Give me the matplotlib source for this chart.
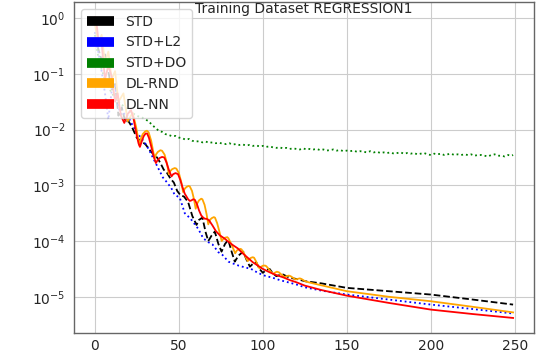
import numpy as np
import matplotlib
matplotlib.use("Agg")
import matplotlib.pyplot as plt
from matplotlib.lines import Line2D

title = "Training Dataset REGRESSION1"
labels = ["STD", "STD+L2", "STD+DO", "DL-RND", "DL-NN"]
colors = ["black", "blue", "green", "orange", "red"]
styles = ["--", ":", ":", "-", "-"]
ytick_vals = [1e0, 1e-1, 1e-2, 1e-3, 1e-4, 1e-5]

# --- data (log10 of the loss) ---
std_epoch = [0, 2, 4, 6, 8, 10, 12, 14, 16, 18, 20, 22, 25, 28, 30, 33, 35, 37, 39, 41, 43, 45, 47, 49,
             51, 53, 55.5, 58, 60.5, 62, 64, 66, 67.5, 69.5, 71.4, 73.5, 75.4, 77.5, 79.4, 81.5, 83.3,
             85.5, 88.3, 90.5, 92.3, 94, 96, 98, 100, 102, 104, 106, 108, 110, 112, 116, 120, 125, 135,
             150, 175, 200, 225, 249]
std_log = [-0.35, -0.55, -0.75, -0.65, -0.95, -1.3, -1.15, -1.75, -1.6, -1.85, -1.85, -1.95, -2.15, -2.22,
           -2.26, -2.38, -2.45, -2.5, -2.6, -2.72, -2.78, -2.88, -2.95, -3.1, -3.18, -3.2, -3.3, -3.55,
           -3.71, -3.62, -3.58, -3.85, -4.0, -3.9, -3.83, -4.05, -4.19, -4.05, -3.98, -4.2, -4.37,
           -4.26, -4.19, -4.35, -4.46, -4.41, -4.38, -4.5, -4.57, -4.52, -4.5, -4.58, -4.63, -4.61, -4.6,
           -4.66, -4.68, -4.72, -4.76, -4.84, -4.9, -4.96, -5.05, -5.14]

l2_epoch = [0, 2, 4, 6, 8, 10, 12, 14, 16, 18, 20, 22, 25, 28, 30, 32, 34.5, 37.5, 40.5, 43, 45.5, 47.5,
            50.5, 53.5, 57, 61.5, 64.5, 67.5, 70, 73.5, 76, 79.5, 82, 85.5, 89, 93, 97, 101, 106, 110,
            115, 120, 125, 135, 150, 175, 200, 225, 249]
l2_log = [-0.25, -0.6, -0.95, -1.35, -1.82, -1.3, -1.2, -1.6, -1.75, -1.7, -1.78, -1.9, -2.05, -2.17,
          -2.25, -2.35, -2.5, -2.68, -2.86, -2.95, -3.05, -3.17, -3.22, -3.5, -3.6, -3.78, -3.95, -4.02,
          -4.06, -4.2, -4.25, -4.37, -4.4, -4.44, -4.47, -4.5, -4.57, -4.62, -4.66, -4.7, -4.74, -4.78,
          -4.83, -4.89, -4.96, -5.05, -5.14, -5.22, -5.30]

do_epoch = list(range(0, 250, 2)) + [249]
do_val_1e3 = [500, 200, 120, 80, 60, 45, 38, 32, 28, 25, 22, 20, 18.5, 17.2, 16.5, 15.2, 14.2, 12.1, 10.8,
              9.5, 9.1, 8.3, 8.0, 7.6, 7.7, 7.2, 7.0, 6.6, 6.8, 6.3, 6.1, 6.2, 5.9, 6.1, 5.8, 5.9, 5.7,
              5.8, 5.6, 5.5, 5.7, 5.4, 5.5, 5.3, 5.4, 5.2, 5.3, 5.1, 5.2, 5.0, 5.1, 4.9, 5.0, 4.8, 4.7,
              4.8, 4.6, 4.7, 4.5, 4.6, 4.5, 4.4, 4.6, 4.4, 4.5, 4.4, 4.5, 4.3, 4.4, 4.2, 4.3, 4.4, 4.2,
              4.3, 4.1, 4.2, 4.1, 4.2, 4.0, 4.1, 4.0, 3.9, 4.1, 3.9, 4.0, 3.8, 3.9, 3.8, 3.9, 3.7, 3.8,
              3.9, 3.7, 3.8, 3.7, 3.8, 3.6, 3.7, 3.8, 3.6, 3.5, 3.7, 3.6, 3.7, 3.5, 3.6, 3.7, 3.5, 3.6,
              3.5, 3.6, 3.5, 3.6, 3.4, 3.5, 3.5, 3.4, 3.3, 3.5, 3.6, 3.4, 3.4, 3.3, 3.5, 3.4, 3.5]

rnd_epoch = [0, 2, 4, 6, 8, 10, 12, 14, 17, 19.5, 22.5, 24.5, 26.5, 27.5, 28.5, 30, 31, 32, 33.5, 35.5,
             36.5, 37.5, 39, 40, 41.5, 43, 44, 45, 46, 47.5, 48.5, 50, 51.5, 52.5, 53.5, 54.5, 55.8,
             56.5, 57.8, 59, 60, 61, 62, 63.3, 64, 65.3, 66.5, 67.5, 68.5, 69.5, 70.8, 71.5, 72.8, 74.3,
             75.5, 76.5, 77.5, 78.8, 79.5, 80.8, 82.3, 83.5, 84.5, 85.5, 86.7, 87.3, 88.6, 90, 91, 92,
             93, 94, 94.8, 96.2, 97.2, 98, 99, 100.2, 101.3, 102, 103.5, 105, 106, 107, 108.3, 109.5,
             111, 112.2, 113, 114, 115.5, 116.5, 118, 119.5, 120.5, 122, 123, 124.5, 126, 130, 140, 150,
             175, 200, 225, 249]
rnd_log = [-0.1, -0.45, -0.3, -0.8, -0.6, -1.1, -0.95, -1.5, -1.35, -1.85, -1.7, -1.95, -2.28, -2.15,
           -2.08, -2.03, -2.02, -2.05, -2.2, -2.52, -2.44, -2.4, -2.37, -2.38, -2.45, -2.62, -2.8, -2.74,
           -2.71, -2.69, -2.7, -2.78, -2.95, -3.12, -3.06, -3.03, -3.01, -3.02, -3.1, -3.25, -3.42,
           -3.32, -3.27, -3.24, -3.25, -3.35, -3.52, -3.7, -3.62, -3.59, -3.57, -3.58, -3.68, -3.85,
           -4.0, -3.96, -3.94, -3.93, -3.95, -4.03, -4.13, -4.22, -4.17, -4.15, -4.14, -4.15, -4.21,
           -4.3, -4.36, -4.32, -4.3, -4.29, -4.3, -4.38, -4.45, -4.49, -4.46, -4.44, -4.44, -4.45, -4.5,
           -4.56, -4.59, -4.57, -4.55, -4.56, -4.6, -4.63, -4.65, -4.63, -4.62, -4.63, -4.66, -4.69,
           -4.68, -4.67, -4.68, -4.71, -4.73, -4.76, -4.83, -4.9, -5.0, -5.08, -5.18, -5.28]

nn_epoch = [0, 1, 2.5, 4, 6, 8, 10, 12, 13.5, 15.5, 17.5, 19.5, 21.5, 23, 24.5, 26, 26.8, 27.8, 29, 30.2,
            31.1, 32.2, 33.5, 35, 36.3, 37.3, 38.5, 40, 41.3, 42.5, 44, 45.6, 46.6, 48, 49.5, 50.8,
            52.2, 53.5, 54.5, 55.5, 56.5, 57.5, 58.5, 59.5, 60.8, 62, 63.3, 64.5, 65.5, 66.5, 68, 70,
            72, 74.5, 76, 77, 79, 82, 85, 88, 91, 94, 96.5, 100, 104, 108, 112, 116, 120, 125, 135,
            150, 175, 200, 225, 249]
nn_log = [0.02, -0.1, -0.5, -0.45, -1.1, -0.85, -1.05, -1.5, -1.35, -1.75, -1.88, -1.72, -1.65, -1.8,
          -2.05, -2.25, -2.31, -2.22, -2.12, -2.07, -2.07, -2.15, -2.3, -2.48, -2.6, -2.55, -2.51, -2.49,
          -2.5, -2.58, -2.72, -2.84, -2.8, -2.78, -2.8, -2.9, -3.04, -3.15, -3.2, -3.25, -3.28, -3.27,
          -3.25, -3.26, -3.34, -3.45, -3.54, -3.58, -3.6, -3.6, -3.63, -3.72, -3.82, -3.9, -3.93,
          -3.95, -4.0, -4.07, -4.13, -4.22, -4.3, -4.38, -4.43, -4.5, -4.56, -4.61, -4.65, -4.7,
          -4.74, -4.8, -4.88, -4.98, -5.11, -5.23, -5.31, -5.38]

series = [
    (std_epoch, 10.0 ** np.array(std_log)),
    (l2_epoch, 10.0 ** np.array(l2_log)),
    (do_epoch, np.array(do_val_1e3) * 1e-3),
    (rnd_epoch, 10.0 ** np.array(rnd_log)),
    (nn_epoch, 10.0 ** np.array(nn_log)),
]

text_color = "#262626"
fig = plt.figure(figsize=(5.52, 3.56), dpi=100)
ax = fig.add_axes([74 / 552, 23 / 356, 460 / 552, 331 / 356])

for (x, y), c, ls in zip(series, colors, styles):
    ax.plot(x, y, color=c, linestyle=ls, lw=1.3)

ax.set_yscale("log")
ax.set_yticks(ytick_vals)
ax.yaxis.set_minor_locator(matplotlib.ticker.NullLocator())
ax.grid(True, which="major", color="#cccccc", lw=0.8)
ax.tick_params(which="both", length=0, labelsize=10, labelcolor=text_color)
ax.tick_params(axis="y", pad=6)
ax.tick_params(axis="x", pad=4.5)
for s in ax.spines.values():
    s.set_color("#666666")
    s.set_linewidth(1.0)

ax.text(0.5, 0.968, title, transform=ax.transAxes, ha="center", va="baseline",
        fontsize=10, color=text_color)

handles = [Line2D([], [], color=c, lw=7, solid_capstyle="butt") for c in colors]
leg = ax.legend(handles, labels, loc="upper left", fontsize=10, framealpha=0.8,
                edgecolor="#cccccc", labelcolor=text_color)

fig.savefig("out.png", dpi=100)
